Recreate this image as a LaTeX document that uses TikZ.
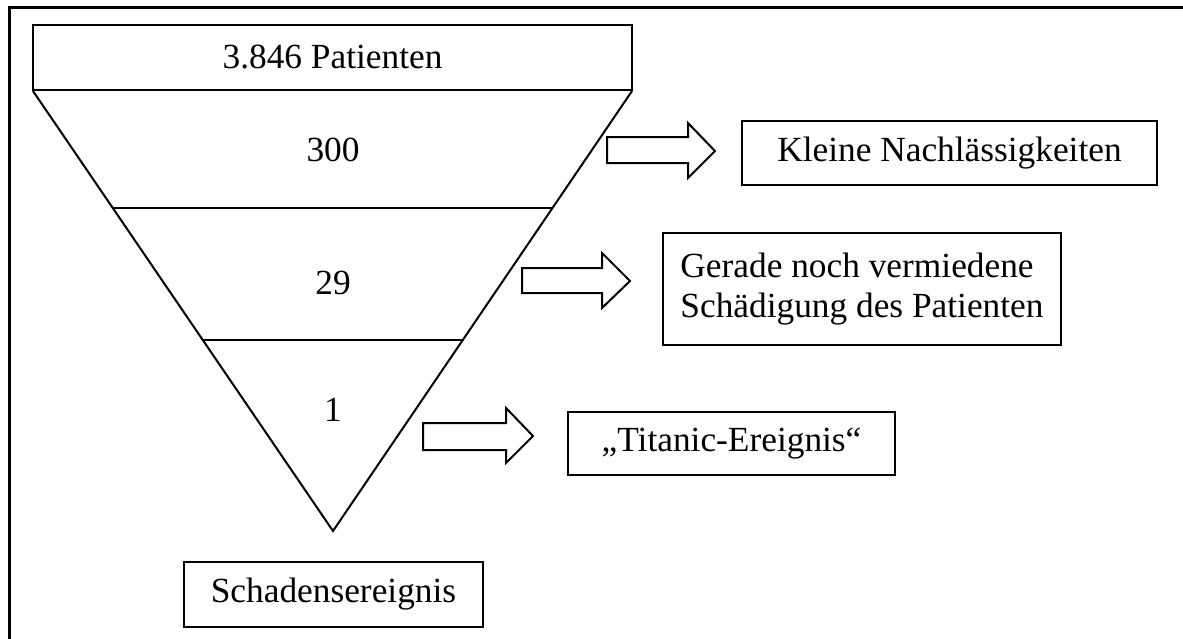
\documentclass[tikz,border=0pt]{standalone}
\usepackage{fontspec}
\setmainfont{Liberation Serif}
\begin{document}
\begin{tikzpicture}[x=0.75pt,y=-0.75pt,
  txt/.style={font=\fontsize{26.5}{30}\selectfont, inner sep=0pt},
  box/.style={txt, draw, line width=1.5pt, minimum width=#1},
  frame/.style={line width=2.25pt},
  triline/.style={line width=1.5pt, line join=miter},
  blockarrow/.style={line width=1.5pt, line join=miter, fill=white}]
\useasboundingbox (0,0) rectangle (1183,639);
% outer frame (top and left only)
\draw[frame] (9,639) -- (9,7) -- (1183,7);
% inverted triangle
\coordinate (tl) at (33,91);
\coordinate (tr) at (632,91);
\coordinate (ap) at (333,531);
\draw[triline] (tl) -- (ap) -- (tr);
\draw[triline] (112.5,208) -- (552.5,208);
\draw[triline] (202.5,340) -- (463.5,340);
% top box
\node[box=599*0.75pt, minimum height=65*0.75pt] (top) at (332.5,57.5) {3.846 Patienten};
% level labels
\node[txt] (n300) at (333,150) {300};
\node[txt] (n29) at (333,283) {29};
\node[txt] (n1) at (333,410) {1};
% right boxes
\node[box=415*0.75pt, minimum height=64*0.75pt] (b1) at (949.5,153) {Kleine Nachlässigkeiten};
\node[box=398*0.75pt, minimum height=112*0.75pt, align=left] (b2) at (862,289) {Gerade noch vermiedene\\Schädigung des Patienten};
\node[box=327*0.75pt, minimum height=63*0.75pt] (b3) at (731.5,443.5) {„Titanic-Ereignis“};
\node[box=299*0.75pt, minimum height=65*0.75pt] (b4) at (333.5,594.5) {Schadensereignis};
% block arrows
\draw[blockarrow] (607,137) -- (688,137) -- (688,123) -- (715,151) -- (688,178) -- (688,163) -- (607,163) -- cycle;
\draw[blockarrow] (522,268) -- (602,268) -- (602,253) -- (630,281) -- (602,308) -- (602,293) -- (522,293) -- cycle;
\draw[blockarrow] (423,423) -- (506,423) -- (506,408) -- (533,436) -- (506,463) -- (506,450) -- (423,450) -- cycle;
\end{tikzpicture}
\end{document}
